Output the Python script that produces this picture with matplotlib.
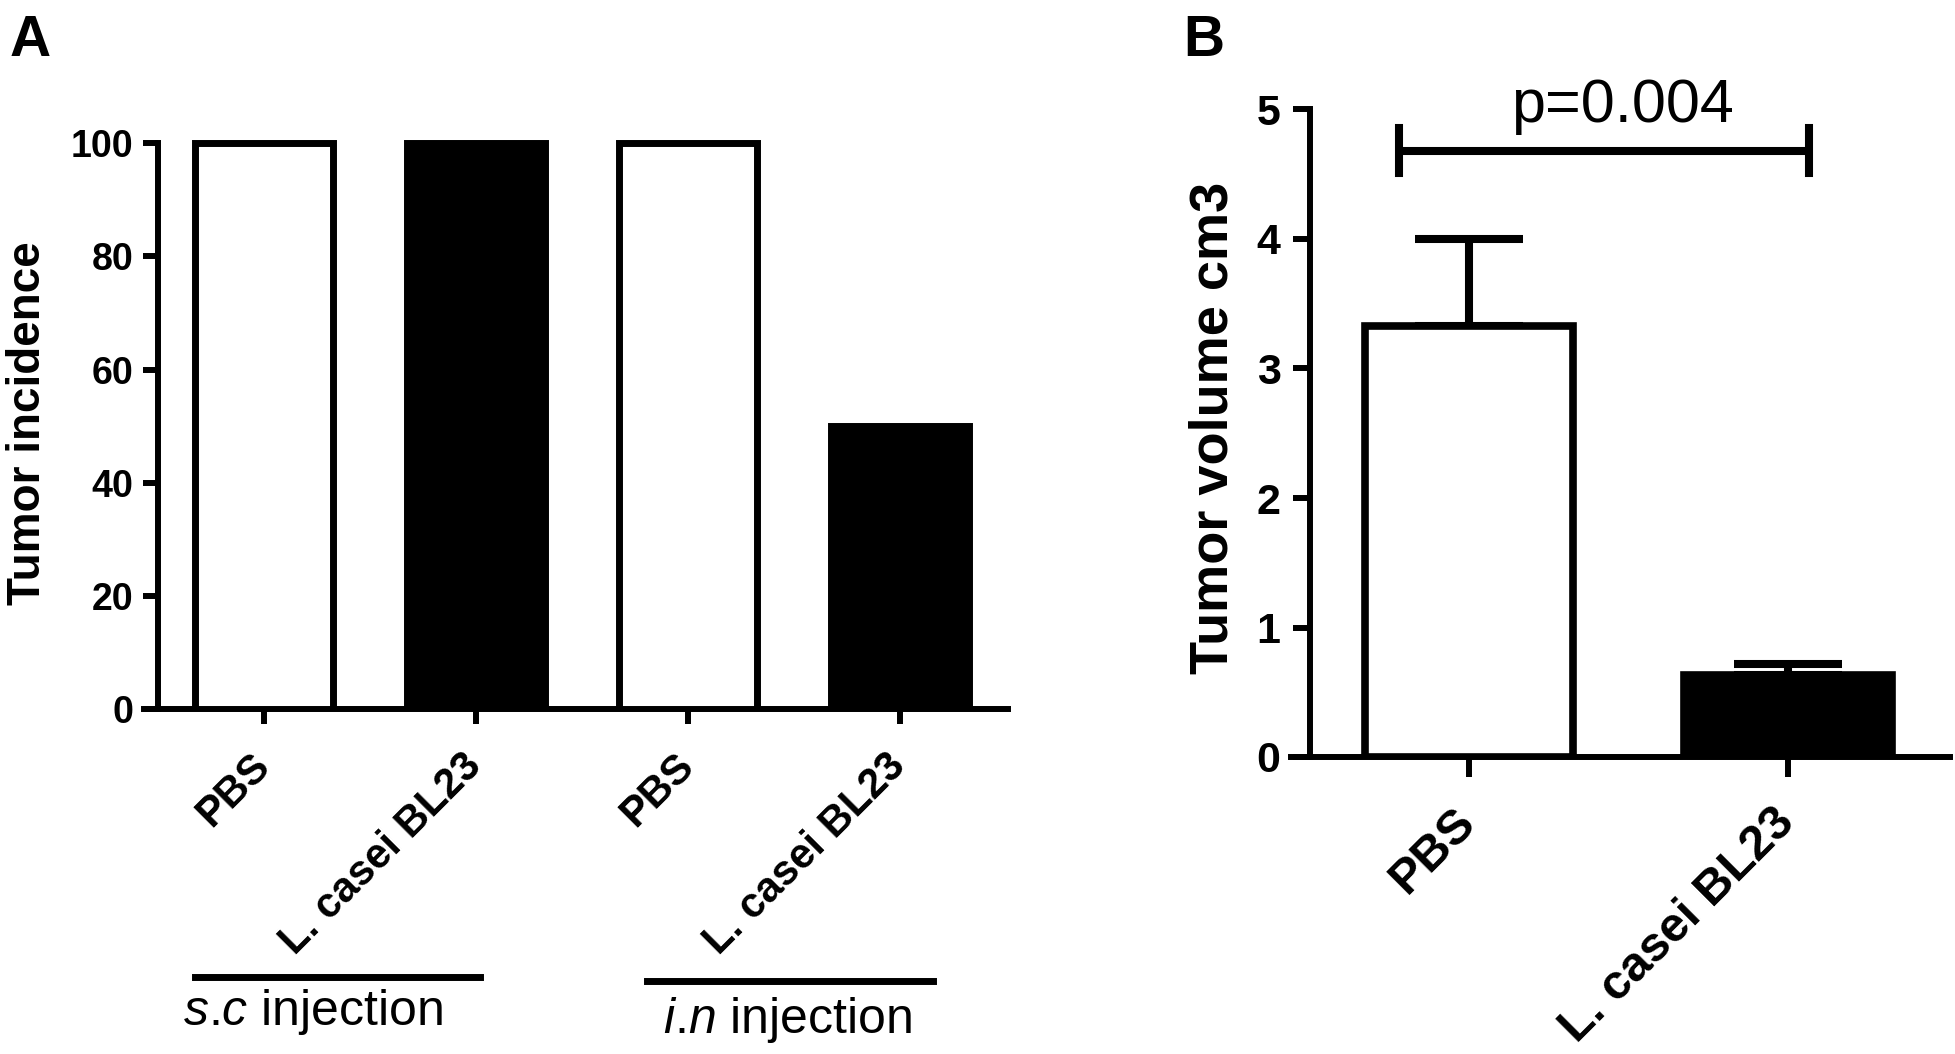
##two panel bar figure: tumor incidence (A) and tumor volume (B)
import matplotlib
matplotlib.use('Agg')
import matplotlib.pyplot as plt

plt.rcParams['font.family'] = ['Liberation Sans', 'DejaVu Sans']
plt.rcParams['mathtext.fontset'] = 'custom'
plt.rcParams['mathtext.it'] = 'Liberation Sans:italic'
plt.rcParams['mathtext.rm'] = 'Liberation Sans'

##panel A data
a_labels = ['PBS', 'L. casei BL23', 'PBS', 'L. casei BL23']
a_values = [100, 100, 100, 50]
a_colors = ['white', 'black', 'white', 'black']
a_yticks = [0, 20, 40, 60, 80, 100]
a_groups = [r'$\mathit{s}$.$\mathit{c}$ injection', r'$\mathit{i}$.$\mathit{n}$ injection']

##panel B data
b_labels = ['PBS', 'L. casei BL23']
b_means = [3.33, 0.63]
b_err = [0.67, 0.09]
b_colors = ['white', 'black']
b_yticks = [0, 1, 2, 3, 4, 5]
p_text = 'p=0.004'

W, H = 1956, 1054
fig = plt.figure(figsize=(W / 100, H / 100), dpi=100)


##axes placed in pixel units of the output picture
def px_axes(left, right, top, bottom):
    return fig.add_axes([left / W, 1 - bottom / H, (right - left) / W, (bottom - top) / H])


def prism_style(ax, lw, ymax):
    for side in ['top', 'right']:
        ax.spines[side].set_visible(False)
    for side in ['left', 'bottom']:
        ax.spines[side].set_linewidth(lw)
    ax.spines['left'].set_position(('data', -0.5))
    ax.spines['left'].set_bounds(0, ymax)


##---- panel A ----
axA = px_axes(144, 1008, 115, 709)
xa = list(range(len(a_values)))
axA.bar(xa, a_values, width=0.65, color=a_colors, edgecolor='black', linewidth=5, zorder=3)
axA.set_xlim(-0.566, 3.51)
axA.set_ylim(0, 105)
prism_style(axA, 4.3, 100)
axA.set_yticks(a_yticks)
axA.set_yticklabels([str(v) for v in a_yticks], fontsize=27, fontweight='bold')
axA.set_xticks(xa)
axA.set_xticklabels(a_labels, rotation=45, ha='right', va='center', rotation_mode='anchor',
                    fontsize=30, fontweight='bold')
axA.tick_params(axis='y', length=10.8, width=4.3, pad=7)
axA.tick_params(axis='x', length=10.8, width=4.3, pad=26)

##group lines under the categories
tr = axA.get_xaxis_transform()
group_spans = [(-0.325, 1.02), (1.807, 3.156)]
group_line_y = [-0.451, -0.458]
group_text_x = [0.231, 2.47]
group_text_y = [-0.532, -0.545]
for i, name in enumerate(a_groups):
    axA.plot(group_spans[i], [group_line_y[i]] * 2, color='black', lw=5, transform=tr, clip_on=False)
    axA.text(group_text_x[i], group_text_y[i], name, transform=tr, ha='center', va='baseline', fontsize=36)

fig.text(28 / W, 1 - 423 / H, 'Tumor incidence', rotation=90, ha='center', va='center',
         fontsize=33, fontweight='bold')
fig.text(10 / W, 1 - 56 / H, 'A', fontsize=41, fontweight='bold', va='baseline')

##---- panel B ----
axB = px_axes(1291, 1950, 757 - 5.4 * 129.5, 757)
xb = list(range(len(b_means)))
axB.bar(xb, b_means, width=0.65, color=b_colors, edgecolor='black', linewidth=5.5, zorder=3)
axB.errorbar(xb, b_means, yerr=[[0] * len(b_err), b_err], fmt='none', ecolor='black',
             elinewidth=5.8, capsize=39, capthick=5.8, zorder=2)
axB.set_xlim(-0.558, 1.508)
axB.set_ylim(0, 5.4)
prism_style(axB, 4.3, 5)
axB.set_yticks(b_yticks)
axB.set_yticklabels([str(v) for v in b_yticks], fontsize=31, fontweight='bold')
axB.set_xticks(xb)
axB.set_xticklabels(b_labels, rotation=45, ha='right', va='center', rotation_mode='anchor',
                    fontsize=35, fontweight='bold')
axB.tick_params(axis='y', length=12.2, width=4.3, pad=8.6)
axB.tick_params(axis='x', length=14.4, width=4.3, pad=28)

##significance bracket
br_y, br_lo, br_hi = 4.68, 4.51, 4.86
br_x = [-0.22, 1.066]
axB.plot(br_x, [br_y, br_y], color='black', lw=5.8, solid_capstyle='butt', clip_on=False)
for bx in br_x:
    axB.plot([bx, bx], [br_lo, br_hi], color='black', lw=5.8, clip_on=False)
axB.text(0.48, 4.9, p_text, ha='center', va='baseline', fontsize=44)

fig.text(1213 / W, 1 - 428 / H, 'Tumor volume cm3', rotation=90, ha='center', va='center',
         fontsize=39, fontweight='bold')
fig.text(1183 / W, 1 - 56 / H, 'B', fontsize=41, fontweight='bold', va='baseline')

fig.savefig('out.png', dpi=100)
